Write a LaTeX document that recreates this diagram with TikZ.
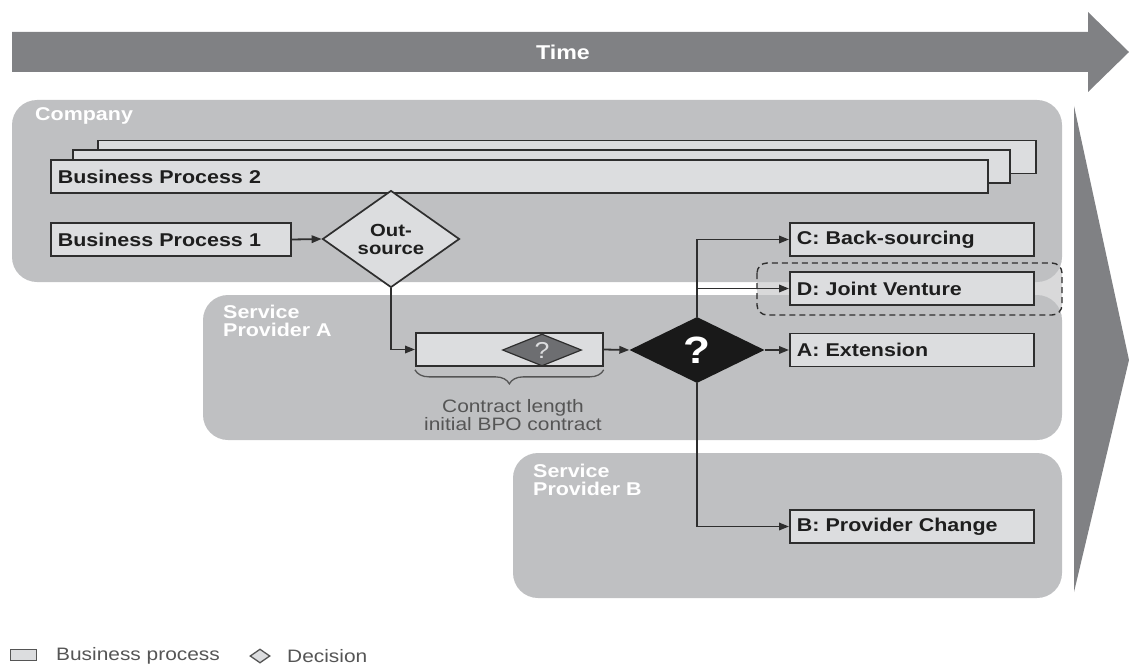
\documentclass[tikz,border=0pt]{standalone}
\usepackage{fontspec}
\setmainfont{Liberation Sans}[FakeStretch=1.16]
\usepackage{tikz}
\usetikzlibrary{arrows.meta,shapes.geometric,decorations.pathreplacing}

\definecolor{timegray}{HTML}{808184}
\definecolor{regiongray}{HTML}{BFC0C2}
\definecolor{procfill}{HTML}{DCDDDF}
\definecolor{procline}{HTML}{2E2E2E}
\definecolor{textdark}{HTML}{1E1E1E}
\definecolor{gatefill}{HTML}{6D6E71}
\definecolor{legendgray}{HTML}{555555}

\newcommand{\procfont}{\bfseries\fontsize{18.5}{20}\selectfont}
\newcommand{\labelfont}{\bfseries\fontsize{18.5}{18.5}\selectfont}
\newcommand{\notefont}{\fontsize{18}{16.5}\selectfont}

\begin{document}
\begin{tikzpicture}[x=1pt,y=-1pt,
  proc/.style={draw=procline, fill=procfill, line width=1.7pt, anchor=west,
    minimum height=33pt, inner xsep=7pt, inner ysep=0pt, text width=#1,
    align=left, font=\procfont, text=textdark},
  region/.style={fill=regiongray, rounded corners=25pt},
  regionlabel/.style={anchor=west, inner sep=0pt, align=left, text=white, font=\labelfont},
  flow/.style={draw=procline, line width=1.8pt, -{Triangle[length=10pt,width=7.5pt]}},
  decide/.style={diamond, inner sep=0pt}]
\useasboundingbox (0,0) rectangle (1129,666);

% time axis
\fill[timegray] (12,32) -- (1088,32) -- (1088,12) -- (1129,52) -- (1088,92)
  -- (1088,72) -- (12,72) -- cycle;
\node[text=white, font=\bfseries\fontsize{20}{22}\selectfont] (time) at (563,52) {Time};
\fill[timegray] (1074,106) -- (1129,360) -- (1074,592) -- cycle;

% organisations
\fill[region] (12,100) rectangle (1062,282);
\fill[region] (203,295) rectangle (1062,440);
\fill[region] (513,453) rectangle (1062,598);
\node[regionlabel] (company) at (35,116) {Company};
\node[regionlabel] (provA) at (223,321) {Service\\Provider A};
\node[regionlabel] (provB) at (533,480) {Service\\Provider B};
\draw[dashed, dash pattern=on 6pt off 4pt, draw=procline, line width=1.4pt,
  fill=regiongray, fill opacity=0.6, rounded corners=10pt] (757,263) rectangle (1062,315);

% business processes
\node[proc=924] (bpc) at (97,157) {};
\node[proc=923] (bpb) at (72,166.5) {};
\node[proc=923] (bp2) at (50,176.5) {Business Process 2};
\node[proc=226] (bp1) at (50,239.5) {Business Process 1};
\node[decide, draw=procline, fill=procfill, line width=1.7pt, minimum width=137pt,
  minimum height=67pt, align=center, text=textdark,
  font=\bfseries\fontsize{17.5}{18}\selectfont] (out) at (391,239) {Out-\\source};
\node[proc=173] (contract) at (415,349.5) {};
\node[decide, draw=procline, fill=gatefill, line width=1.2pt, minimum width=79pt,
  minimum height=32pt, text=procfill, font=\fontsize{23}{23}\selectfont] (gate) at (542,350) {?};
\node[decide, fill=black!90, minimum width=135pt, minimum height=66pt, text=white,
  font=\bfseries\fontsize{38}{38}\selectfont] (choice) at (697,350) {?};
\node[proc=230] (optC) at (789,239.5) {C: Back-sourcing};
\node[proc=230] (optD) at (789,288.5) {D: Joint Venture};
\node[proc=230] (optA) at (789,350) {A: Extension};
\node[proc=230] (optB) at (789,526.5) {B: Provider Change};

% connectors
\draw[flow] (bp1.east) -- (out.west);
\draw[flow] (out.south) |- (contract.west);
\draw[flow] (contract.east) -- (choice.west);
\draw[flow] (choice.east) -- (optA.west);
\draw[flow] (choice.north) |- (optC.west);
\draw[flow] (choice.north |- optD.west) -- (optD.west);
\draw[flow] (choice.south) |- (optB.west);

% contract length
\draw[draw=legendgray, line width=1.3pt, decorate, decoration={brace, mirror, amplitude=14pt}]
  ([yshift=-3pt]contract.south west) -- ([yshift=-3pt]contract.south east);
\node[align=center, text=legendgray, font=\notefont] (note) at (513,415)
  {Contract length\\initial BPO contract};

% legend
\node[draw=legendgray, fill=procfill, line width=1.3pt, minimum width=26pt,
  minimum height=11pt, inner sep=0pt] (keyproc) at (23.5,655) {};
\node[anchor=west, inner sep=0pt, text=legendgray, font=\notefont] (keyproctext)
  at (56,656) {Business process};
\node[decide, draw=legendgray, fill=procfill, line width=1.3pt, minimum width=20pt,
  minimum height=14pt] (keydec) at (260,656) {};
\node[anchor=west, inner sep=0pt, text=legendgray, font=\notefont] (keydectext)
  at (287,656) {Decision};
\end{tikzpicture}
\end{document}
